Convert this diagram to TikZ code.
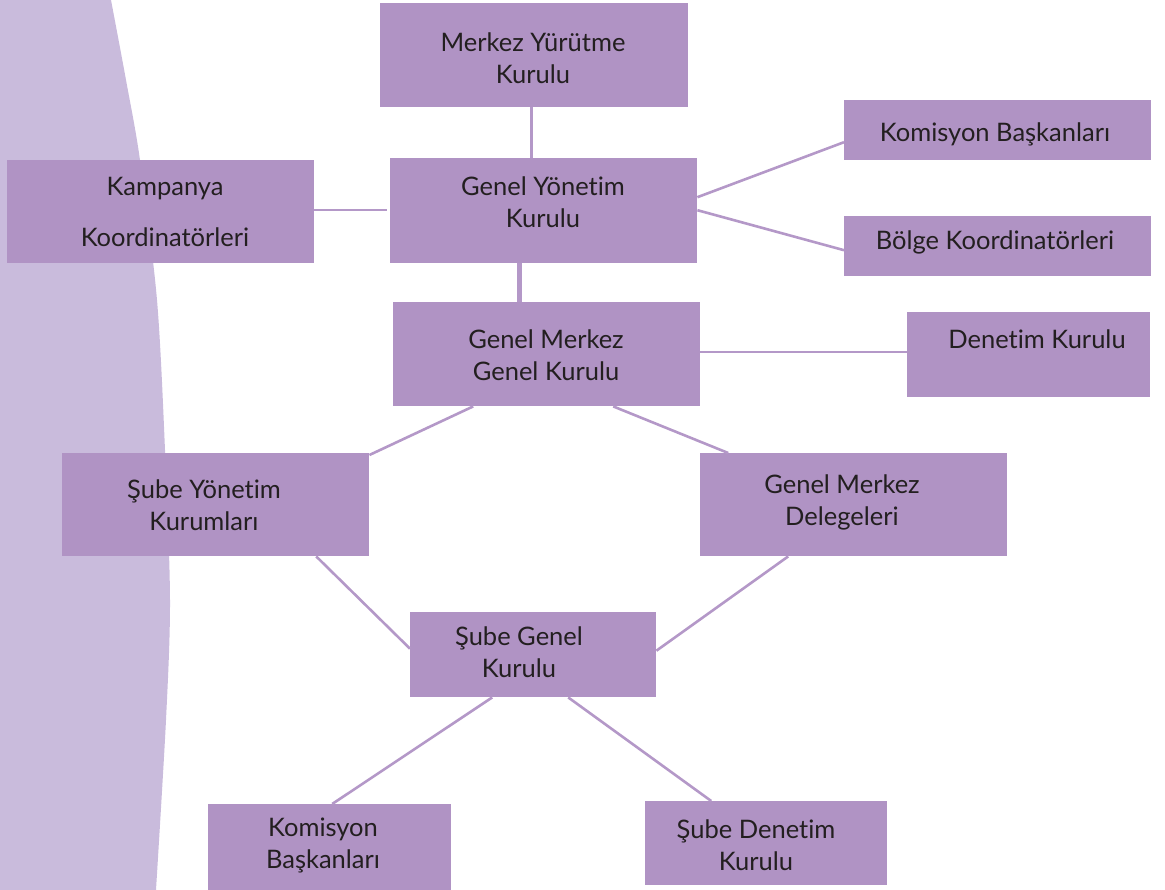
\documentclass[tikz,border=0pt]{standalone}
\usepackage{fontspec}
\setmainfont[Ligatures=NoCommon]{Lato}
\definecolor{boxfill}{HTML}{B093C4}
\definecolor{bgfill}{HTML}{C9BBDC}
\definecolor{linecol}{HTML}{B498C8}
\definecolor{txt}{HTML}{231F20}
\begin{document}
\begin{tikzpicture}[x=1pt,y=-1pt,
  box/.style={fill=boxfill, draw=none, inner sep=0pt, anchor=north west},
  lbl/.style={text=txt, font=\fontsize{25.5}{32}\selectfont, align=center, inner sep=0pt},
  conn/.style={draw=linecol, line width=2.6pt}]
\useasboundingbox (0,0) rectangle (1165,890);

% curved band on the left
\fill[bgfill] (0,0) -- plot[smooth] coordinates {(111,0) (126,80) (140,160) (157,300) (165,450) (170,600) (166,720) (156,890)} -- (0,890) -- cycle;

% boxes
\node[box, minimum width=308pt, minimum height=104pt] (myk)  at (380,3)   {};
\node[box, minimum width=307pt, minimum height=105pt] (gyk)  at (390,158) {};
\node[box, minimum width=307pt, minimum height=104pt] (gmgk) at (393,302) {};
\node[box, minimum width=307pt, minimum height=103pt] (kamp) at (7,160)   {};
\node[box, minimum width=307pt, minimum height=60pt]  (kbt)  at (844,100) {};
\node[box, minimum width=307pt, minimum height=60pt]  (bk)   at (844,216) {};
\node[box, minimum width=243pt, minimum height=85pt]  (dk)   at (907,312) {};
\node[box, minimum width=307pt, minimum height=103pt] (sy)   at (62,453)  {};
\node[box, minimum width=307pt, minimum height=103pt] (gmd)  at (700,453) {};
\node[box, minimum width=246pt, minimum height=85pt]  (sgk)  at (410,612) {};
\node[box, minimum width=243pt, minimum height=86pt]  (kbb)  at (208,804) {};
\node[box, minimum width=242pt, minimum height=84pt]  (sd)   at (645,801) {};

% labels
\node[lbl] (myk-t)  at (533,58)   {Merkez Yürütme\\Kurulu};
\node[lbl] (gyk-t)  at (543,202)  {Genel Yönetim\\Kurulu};
\node[lbl] (gmgk-t) at (546,355)  {Genel Merkez\\Genel Kurulu};
\node[lbl] (kamp-t) at (165,212)  {Kampanya\\[19pt]Koordinatörleri};
\node[lbl] (kbt-t)  at (995,134)  {Komisyon Başkanları};
\node[lbl] (bk-t)   at (995,242)  {Bölge Koordinatörleri};
\node[lbl] (dk-t)   at (1037,339) {Denetim Kurulu};
\node[lbl] (sy-t)   at (204,505)  {Şube Yönetim\\Kurumları};
\node[lbl] (gmd-t)  at (842,502)  {Genel Merkez\\Delegeleri};
\node[lbl] (sgk-t)  at (519,652)  {Şube Genel\\Kurulu};
\node[lbl] (kbb-t)  at (323,845)  {Komisyon\\Başkanları};
\node[lbl] (sd-t)   at (756,845)  {Şube Denetim\\Kurulu};

% connectors
\draw[conn, line width=3.2pt] ([xshift=-3pt]myk.south) -- ([xshift=-12.5pt]gyk.north);
\draw[conn] ([yshift=1.5pt]kamp.east) -- ([xshift=-3pt,yshift=0.5pt]gyk.west);
\draw[conn] ([yshift=13.5pt]gyk.east) -- ([yshift=-12pt]kbt.west);
\draw[conn] ([yshift=0.5pt]gyk.east) -- ([yshift=-4pt]bk.west);
\draw[conn, line width=5pt] ([xshift=-24.5pt]gyk.south) -- ([xshift=-27.5pt]gmgk.north);
\draw[conn] ([yshift=2pt]gmgk.east) -- ([yshift=2.5pt]dk.west);
\draw[conn] ([xshift=-73.5pt]gmgk.south) -- ([yshift=-2pt]sy.north east);
\draw[conn] ([xshift=66.5pt]gmgk.south) -- ([xshift=-125.5pt]gmd.north);
\draw[conn] ([xshift=100.5pt]sy.south) -- ([yshift=6pt]sgk.west);
\draw[conn] ([xshift=-65.5pt]gmd.south) -- ([yshift=4pt]sgk.east);
\draw[conn] ([xshift=-41pt]sgk.south) -- ([xshift=2.5pt]kbb.north);
\draw[conn] ([xshift=35pt]sgk.south) -- ([xshift=-55pt]sd.north);
\end{tikzpicture}
\end{document}
